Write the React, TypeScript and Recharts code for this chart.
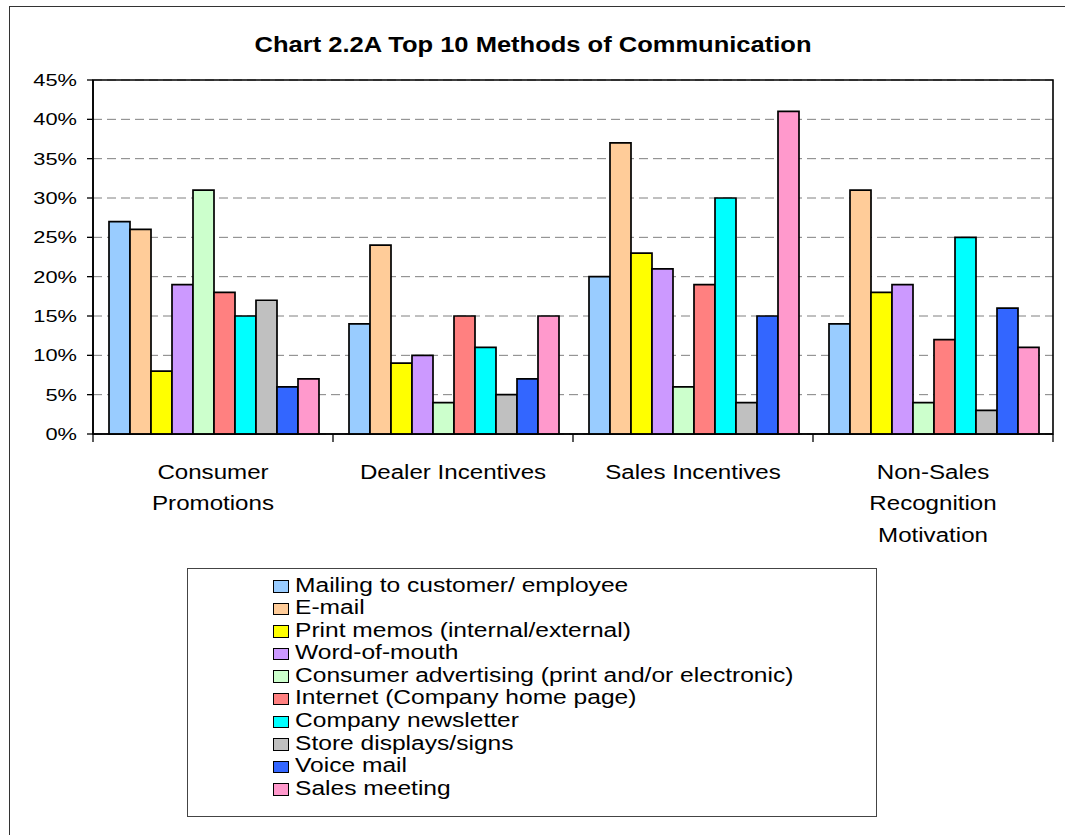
import { BarChart, Bar, XAxis, YAxis, CartesianGrid, Legend, ReferenceArea } from "recharts";

const FONT = "'Liberation Sans', Arial, sans-serif";

const categories = ["Consumer Promotions", "Dealer Incentives", "Sales Incentives", "Non-Sales Recognition Motivation"];
const categoryLines = [["Consumer", "Promotions"], ["Dealer Incentives"], ["Sales Incentives"], ["Non-Sales", "Recognition", "Motivation"]];

const seriesNames = [
  "Mailing to customer/ employee",
  "E-mail",
  "Print memos (internal/external)",
  "Word-of-mouth",
  "Consumer advertising (print and/or electronic)",
  "Internet (Company home page)",
  "Company newsletter",
  "Store displays/signs",
  "Voice mail",
  "Sales meeting",
];
const seriesColors = ["#99CCFF", "#FFCC99", "#FFFF00", "#CC99FF", "#CCFFCC", "#FF8080", "#00FFFF", "#C0C0C0", "#3366FF", "#FF99CC"];

// values in %, one per category
const mailing = [27, 14, 20, 14];
const email = [26, 24, 37, 31];
const printMemos = [8, 9, 23, 18];
const wordOfMouth = [19, 10, 21, 19];
const consumerAdvertising = [31, 4, 6, 4];
const internet = [18, 15, 19, 12];
const newsletter = [15, 11, 30, 25];
const storeDisplays = [17, 5, 4, 3];
const voiceMail = [6, 7, 15, 16];
const salesMeeting = [7, 15, 41, 11];

const yTicks = [0, 5, 10, 15, 20, 25, 30, 35, 40, 45];

const series = [mailing, email, printMemos, wordOfMouth, consumerAdvertising, internet, newsletter, storeDisplays, voiceMail, salesMeeting];
const keys = series.map((_, i) => `s${i}`);
const data = categories.map((name, c) => {
  const row: Record<string, number | string> = { name };
  series.forEach((vals, i) => (row[keys[i]] = vals[c]));
  return row;
});

const W = 1065;
const H = 835;
const MARGIN = { top: 80, right: 12, bottom: 281, left: 33 };
const Y_AXIS_W = 60;
const X_AXIS_H = 120;
const BAND = (W - MARGIN.left - MARGIN.right - Y_AXIS_W) / categories.length;

const YTick = (props: any) => {
  const { x, y, payload } = props;
  return (
    <g transform={`translate(${x},${y + 6}) scale(1.34,1)`}>
      <text x={0} y={0} textAnchor="end" fontSize={16.3} fill="#000" fontFamily={FONT}>
        {payload.value}%
      </text>
    </g>
  );
};

const XTick = (props: any) => {
  const { x, y, index } = props;
  const lines = categoryLines[index] || [];
  return (
    <g>
      <line x1={x - BAND / 2} x2={x - BAND / 2} y1={y} y2={y + 8} stroke="#000" strokeWidth={1.3} />
      {index === categories.length - 1 && (
        <line x1={x + BAND / 2} x2={x + BAND / 2} y1={y} y2={y + 8} stroke="#000" strokeWidth={1.3} />
      )}
      {lines.map((l, i) => (
        <g key={l} transform={`translate(${x},${y + 44.5 + i * 31.5}) scale(1.25,1)`}>
          <text x={0} y={0} textAnchor="middle" fontSize={19.3} fill="#000" fontFamily={FONT}>
            {l}
          </text>
        </g>
      ))}
    </g>
  );
};

const LegendBox = () => (
  <div
    style={{
      width: 690,
      height: 249,
      boxSizing: "border-box",
      border: "1.5px solid #444",
      background: "#fff",
      paddingTop: 4.5,
      paddingLeft: 84.5,
      fontFamily: FONT,
      color: "#000",
    }}
  >
    {seriesNames.map((name, i) => (
      <div key={name} style={{ position: "relative", height: 22.6 }}>
        <span
          style={{
            position: "absolute",
            left: 0,
            top: 6.5,
            width: 16,
            height: 12.5,
            boxSizing: "border-box",
            border: "1.5px solid #000",
            background: seriesColors[i],
          }}
        />
        <span
          style={{
            position: "absolute",
            left: 22,
            top: 0,
            fontSize: 19.5,
            lineHeight: "22.6px",
            whiteSpace: "nowrap",
            transform: "scaleX(1.26)",
            transformOrigin: "left",
          }}
        >
          {name}
        </span>
      </div>
    ))}
  </div>
);

export default function App() {
  return (
    <div style={{ position: "absolute", left: 0, top: 0, width: W, height: H, overflow: "hidden", background: "#fff" }}>
      <div
        style={{
          position: "absolute",
          left: 9,
          top: 6,
          width: W + 40,
          height: H + 40,
          borderLeft: "1.5px solid #333",
          borderTop: "1.5px solid #333",
        }}
      />
      <svg style={{ position: "absolute", left: 0, top: 0 }} width={W} height={70}>
        <g transform="translate(533,52) scale(1.16,1)">
          <text x={0} y={0} textAnchor="middle" fontSize={22} fontWeight="bold" fontFamily={FONT} fill="#000">
            Chart 2.2A Top 10 Methods of Communication
          </text>
        </g>
      </svg>
      <div style={{ position: "absolute", left: 0, top: 0 }}>
        <BarChart width={W} height={H} data={data} margin={MARGIN} barCategoryGap={16} barGap={0}>
          <CartesianGrid vertical={false} stroke="#808080" strokeDasharray="9 5" />
          <XAxis
            dataKey="name"
            height={X_AXIS_H}
            tickLine={false}
            tickSize={0}
            tickMargin={0}
            interval={0}
            axisLine={{ stroke: "#000", strokeWidth: 1.6 }}
            tick={<XTick />}
          />
          <YAxis
            width={Y_AXIS_W}
            domain={[0, 45]}
            ticks={yTicks}
            interval={0}
            tickSize={6}
            tickMargin={10}
            axisLine={{ stroke: "#000", strokeWidth: 1.6 }}
            tickLine={{ stroke: "#000", strokeWidth: 1.3 }}
            tick={<YTick />}
          />
          <ReferenceArea y1={0} y2={45} fill="none" stroke="#000" strokeWidth={1.6} ifOverflow="visible" />
          {keys.map((k, i) => (
            <Bar
              key={k}
              dataKey={k}
              name={seriesNames[i]}
              fill={seriesColors[i]}
              stroke="#000"
              strokeWidth={1.7}
              isAnimationActive={false}
            />
          ))}
          <Legend
            layout="vertical"
            align="center"
            verticalAlign="middle"
            content={<LegendBox />}
            wrapperStyle={{ left: 187, top: 568, width: 690, height: 249 }}
          />
        </BarChart>
      </div>
    </div>
  );
}
